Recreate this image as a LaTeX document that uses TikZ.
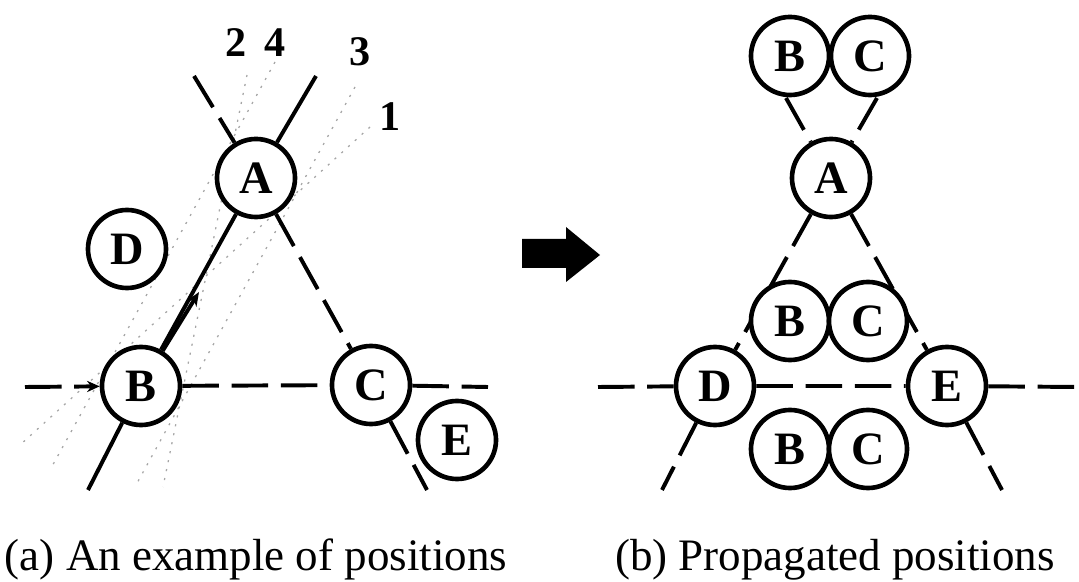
\documentclass[tikz,border=0pt]{standalone}
\usepackage{fontspec}
\setmainfont{Liberation Serif}
\usetikzlibrary{arrows.meta}

\begin{document}
\begin{tikzpicture}[x=0.025cm, y=-0.025cm,
		obj/.style={circle, draw, fill=white, line width=3.3pt, minimum size=1.95cm, inner sep=0pt, font=\fontsize{33}{36}\selectfont\bfseries},
		solidline/.style={line width=2.8pt},
		dashline/.style={line width=2.8pt, dash pattern=on 26pt off 9pt},
		trace/.style={gray!70, line width=0.9pt, dash pattern=on 1.5pt off 5pt},
		tag/.style={font=\fontsize{30}{32}\selectfont\bfseries},
		caption/.style={anchor=base, font=\fontsize{32}{36}\selectfont}]
	\useasboundingbox (0,0) rectangle (1079,582);
	
	% Candidate lines 1-4
	\node[tag] (n2) at (236,43) {2};
	\node[tag] (n4) at (275,43) {4};
	\node[tag] (n3) at (360,52) {3};
	\node[tag] (n1) at (390,117) {1};
	\coordinate (t1a) at (370,127); \coordinate (t1b) at (20,445);
	\coordinate (t2a) at (247,75);  \coordinate (t2b) at (163,487);
	\coordinate (t3a) at (355,87);  \coordinate (t3b) at (136,485);
	\coordinate (t4a) at (275,62);  \coordinate (t4b) at (50,470);
	\draw[trace] (t1a) -- (t1b);
	\draw[trace] (t2a) -- (t2b);
	\draw[trace] (t3a) -- (t3b);
	\draw[trace] (t4a) -- (t4b);
	
	% Left: objects
	\node[obj] (A) at (256,178) {A};
	\node[obj] (B) at (141,386) {B};
	\node[obj] (C) at (371,385) {C};
	\node[obj] (D) at (127,249) {D};
	\node[obj] (E) at (457,440) {E};
	
	% Left: lines through the objects
	\coordinate (ab1) at (316,76);
	\coordinate (ab2) at (88,490);
	\coordinate (mk) at (199,292);
	\coordinate (ac1) at (194,76);
	\coordinate (ac2) at (427,490);
	\coordinate (h1) at (25,387);
	\coordinate (h2) at (488,387);
	\draw[solidline] (ab1) -- (A) -- (B) -- (ab2);
	\draw[solidline, -{Stealth[length=10pt, width=8pt]}] (B) -- (mk);
	\draw[dashline] (ac1) -- (A) -- (C) -- (ac2);
	\draw[dashline, -{Stealth[length=9pt, width=8pt]}] (h1) -- (B);
	\draw[dashline] (B) -- (C) -- (h2);
	
	% Arrow between the two panels
	\fill (522,239) -- (566,239) -- (566,227) -- (600,255) -- (566,282) -- (566,268) -- (522,268) -- cycle;
	
	% Right: objects on the lines
	\node[obj] (A2) at (831,178) {A};
	\node[obj] (D2) at (715,386) {D};
	\node[obj] (E2) at (947,386) {E};
	
	% Right: lines
	\coordinate (dtop) at (877,98);
	\coordinate (dbot) at (662,490);
	\coordinate (etop) at (786,98);
	\coordinate (ebot) at (1002,490);
	\coordinate (r1) at (598,387);
	\coordinate (r2) at (1079,387);
	\draw[dashline] (dtop) -- (A2) -- (D2) -- (dbot);
	\draw[dashline] (etop) -- (A2) -- (E2) -- (ebot);
	\draw[dashline] (r1) -- (D2) -- (E2) -- (r2);
	
	% Right: propagated positions
	\node[obj] (B2t) at (790,56) {B};
	\node[obj] (C2t) at (870,56) {C};
	\node[obj] (B2m) at (790,321) {B};
	\node[obj] (C2m) at (868,321) {C};
	\node[obj] (B2b) at (790,449) {B};
	\node[obj] (C2b) at (868,449) {C};
	
	% Captions
	\node[caption] (capa) at (256,571) {(a) An example of positions};
	\node[caption] (capb) at (835,571) {(b) Propagated positions};
\end{tikzpicture}
\end{document}
